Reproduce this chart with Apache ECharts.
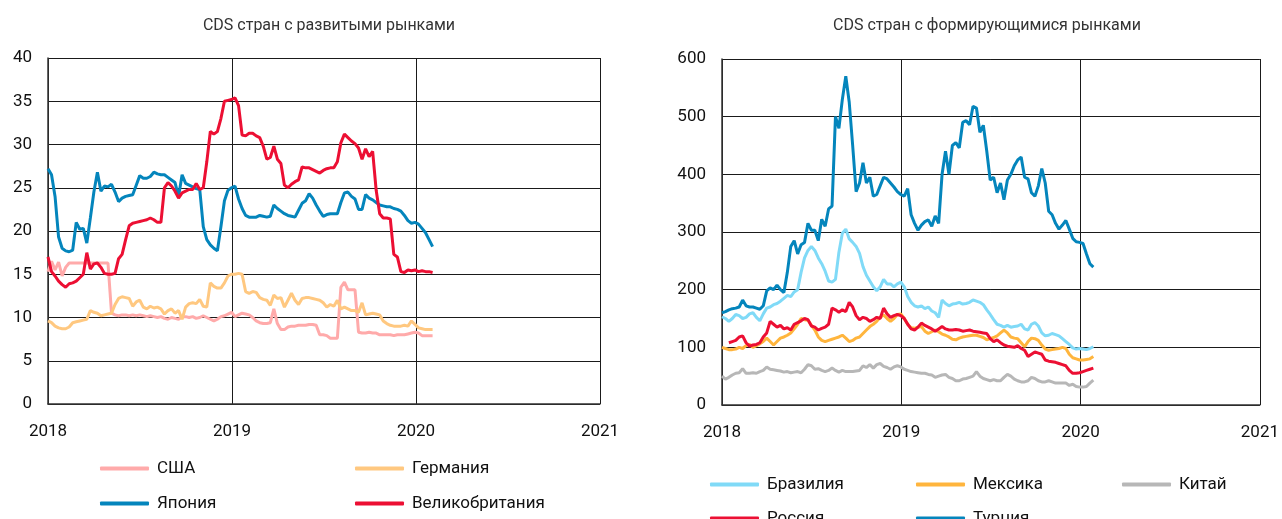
<!DOCTYPE html>
<html>
<head>
<meta charset="utf-8">
<script src="https://cdn.jsdelivr.net/npm/echarts@6/dist/echarts.min.js"></script>
<style>
html,body{margin:0;padding:0;background:#fff;}
#chart{width:1282px;height:519px;}
</style>
</head>
<body>
<div id="chart"></div>
<script>
// Weekly observations starting 2018-01-01
const startDate = '2018-01-01';
const yearTicks = ['2018', '2019', '2020', '2021'];

const titleLeft = 'CDS стран с развитыми рынками';
const titleRight = 'CDS стран с формирующимися рынками';

// Developed markets (bp)
const usa = [15.3,16.5,15.5,16.4,14.8,15.8,16.3,16.3,16.3,16.3,16.3,16.3,16.3,16.3,16.3,16.3,16.3,16.3,10.5,10.3,
  10.2,10.3,10.3,10.2,10.3,10.2,10.3,10.2,10.1,10.2,10.1,10.0,10.1,9.9,9.8,10.0,9.9,9.8,10.1,10.1,
  10.0,10.1,9.9,10.0,10.2,10.0,9.8,9.6,9.8,10.1,10.2,10.4,10.6,10.1,10.3,10.5,10.4,10.3,10.0,9.6,
  9.4,9.3,9.3,9.4,11.0,9.3,8.6,8.6,8.9,9.0,9.0,9.1,9.1,9.1,9.2,9.2,9.1,8.0,8.0,7.9,
  7.6,7.6,7.6,13.5,14.1,13.2,13.2,13.2,8.3,8.2,8.2,8.3,8.2,8.2,8.0,8.0,8.0,8.0,7.9,8.0,
  8.0,8.0,8.1,8.2,8.3,8.2,7.9,7.9,7.9,7.9];
const germany = [9.6,9.4,9.0,8.8,8.7,8.7,8.9,9.4,9.5,9.6,9.7,9.8,10.8,10.6,10.5,10.2,10.3,10.4,10.5,11.5,
  12.2,12.4,12.3,12.2,11.3,11.8,12.0,11.2,11.0,11.3,11.1,11.2,11.0,10.4,10.8,11.0,10.5,10.8,9.8,11.2,
  11.6,11.7,11.6,12.1,11.3,11.2,14.0,13.6,13.4,13.4,14.0,14.8,15.0,15.0,15.1,15.0,13.0,12.8,13.0,12.9,
  12.3,12.1,12.0,11.4,12.6,12.2,12.3,11.2,12.0,12.8,12.0,11.5,12.2,12.3,12.3,12.2,12.1,12.0,11.7,11.2,
  11.5,11.3,12.0,11.0,11.2,11.0,10.8,10.8,10.6,11.7,10.3,10.4,10.5,10.4,10.3,9.6,9.3,9.1,9.0,9.0,
  9.0,9.1,9.0,9.6,9.2,8.8,8.7,8.6,8.6,8.6];
const japan = [27.2,26.5,24.0,19.3,18.0,17.7,17.6,17.8,21.0,20.2,20.3,18.6,21.5,24.5,26.8,24.6,25.2,25.1,25.4,24.5,
  23.4,23.8,24.0,24.1,24.2,25.3,26.4,26.1,26.1,26.3,26.8,26.6,26.5,26.5,26.2,25.9,25.6,24.0,26.5,25.5,
  25.3,25.1,24.9,24.8,20.5,19.0,18.4,18.0,17.7,20.5,23.5,24.7,25.0,25.2,23.7,22.6,21.8,21.6,21.6,21.6,
  21.8,21.7,21.6,21.7,23.0,22.6,22.3,22.0,21.8,21.7,21.6,22.4,23.2,23.5,24.3,23.8,23.0,22.3,21.7,21.9,
  22.0,22.0,22.0,23.3,24.4,24.5,24.0,23.7,22.5,22.5,24.2,23.8,23.6,23.3,23.0,22.9,22.8,22.8,22.6,22.5,
  22.3,21.8,21.2,20.9,21.0,20.8,20.3,19.8,19.0,18.2];
const uk = [17.0,15.3,14.8,14.2,13.8,13.5,13.9,14.0,14.2,14.6,15.0,17.5,15.6,16.2,16.3,15.8,15.1,15.0,15.0,15.1,
  16.8,17.3,19.0,20.6,20.9,21.0,21.1,21.2,21.3,21.5,21.3,21.0,21.0,25.0,25.6,25.2,24.6,23.8,24.4,24.6,
  24.8,24.8,25.5,24.8,25.0,28.0,31.5,31.2,31.5,33.0,35.0,35.1,35.2,35.4,34.5,31.1,31.0,31.3,31.3,31.0,
  30.8,29.8,28.3,28.5,29.8,28.3,27.8,25.3,25.0,25.4,25.7,25.9,27.4,27.3,27.3,27.1,26.9,26.7,27.0,27.2,
  27.3,27.3,28.0,30.2,31.2,30.8,30.4,30.1,29.6,28.3,29.5,28.6,29.2,24.7,22.0,21.5,21.5,21.4,17.3,17.0,
  15.3,15.2,15.5,15.4,15.5,15.3,15.4,15.3,15.3,15.2];

// Emerging markets (bp)
const brazil = [153,150,145,150,157,155,150,152,158,160,152,146,158,168,170,174,176,180,185,190,
  188,196,200,230,255,268,275,268,255,245,232,215,213,218,265,298,305,288,282,275,
  263,240,225,215,205,198,205,218,210,210,205,210,213,205,188,178,172,170,172,167,
  170,163,160,152,182,176,172,175,176,178,175,176,178,182,180,178,174,165,157,148,
  140,138,135,138,135,136,137,140,132,130,140,143,137,125,120,121,124,122,120,115,
  110,105,99,97,98,97,96,98,101];
const mexico = [100,98,96,96,97,100,98,103,105,100,103,106,110,116,110,104,110,116,118,121,
  125,132,140,150,148,147,138,130,118,112,110,112,114,116,118,121,116,110,112,116,
  118,124,130,136,140,145,152,156,150,145,150,157,158,150,140,134,133,135,136,128,
  124,127,130,127,123,121,118,114,113,116,118,119,120,121,121,119,117,113,115,117,
  120,125,130,125,118,116,115,108,101,110,116,115,112,104,97,95,96,97,98,100,
  98,88,82,80,78,78,79,80,84];
const china = [50,45,48,52,55,56,63,55,55,56,55,58,60,66,62,61,60,59,57,58,
  56,57,58,56,62,70,68,62,63,60,58,60,64,60,57,60,58,58,58,59,
  60,68,65,70,64,70,72,67,65,62,66,68,66,62,60,58,57,56,55,55,
  53,52,48,50,52,53,48,46,42,42,45,46,48,50,58,50,46,44,42,44,
  42,42,48,53,50,45,42,40,40,42,48,46,42,40,40,42,40,38,38,38,
  38,34,36,32,31,31,32,38,43];
const russia = [null,null,108,110,112,118,120,108,102,104,105,108,118,125,145,140,135,138,132,134,
  130,140,143,146,150,148,137,135,130,133,135,140,168,165,161,165,162,178,170,155,
  148,152,150,145,148,152,150,168,158,152,155,157,155,150,140,132,130,135,142,138,
  135,132,128,132,136,132,130,130,131,130,128,129,130,128,127,126,125,124,115,110,
  113,108,104,102,101,100,103,98,95,84,88,92,90,88,78,76,75,74,72,70,
  68,60,55,55,56,58,60,62,64];
const turkey = [160,162,165,167,168,170,182,172,170,170,168,166,172,198,203,200,208,200,195,230,
  275,285,262,278,282,315,303,303,285,322,310,340,345,500,480,530,570,525,450,370,
  385,420,385,395,362,365,380,395,392,385,378,370,365,362,375,330,315,303,312,318,
  321,310,328,315,400,440,400,450,455,446,490,493,486,518,515,473,485,440,390,395,
  368,385,356,390,400,415,425,430,395,392,368,362,380,410,385,336,330,315,305,312,
  320,305,289,283,282,280,262,245,239];

const C = {
  usa: '#FFAAAA', germany: '#FFC880', japan: '#0485BC', uk: '#EC0F33',
  brazil: '#80DAF7', mexico: '#FFB53D', china: '#B7B7B7', russia: '#EC0F33', turkey: '#0485BC'
};

function weekX(i) {
  const t0 = new Date(startDate + 'T00:00:00Z').getTime();
  const d = new Date(t0 + i * 7 * 86400000);
  const y = d.getUTCFullYear();
  const a = Date.UTC(y, 0, 1), b = Date.UTC(y + 1, 0, 1);
  return y + (d.getTime() - a) / (b - a);
}
function toData(arr) {
  const out = [];
  arr.forEach((v, i) => { if (v !== null) out.push([weekX(i), v]); });
  return out;
}

const FONT = 'Roboto';
const gridLine = { show: true, lineStyle: { color: '#1a1a1a', width: 1 } };

function xAxis(gi) {
  return {
    type: 'value', gridIndex: gi, min: +yearTicks[0], max: +yearTicks[yearTicks.length - 1], interval: 1,
    axisLine: { show: true, lineStyle: { color: '#333', width: 1.5 } },
    axisTick: { show: false },
    splitLine: gridLine,
    axisLabel: { color: '#111', fontSize: 17, fontFamily: FONT, margin: 19, formatter: v => String(v) }
  };
}
function yAxis(gi, max, interval) {
  return {
    type: 'value', gridIndex: gi, min: 0, max: max, interval: interval,
    axisLine: { show: true, lineStyle: { color: '#333', width: 1.5 } },
    axisTick: { show: false },
    splitLine: gridLine,
    axisLabel: { color: '#111', fontSize: 17, fontFamily: FONT, margin: 16 }
  };
}
function line(name, arr, color, gi, z) {
  return {
    name: name, type: 'line', xAxisIndex: gi, yAxisIndex: gi, data: toData(arr),
    showSymbol: false, symbol: 'none', z: z || 2,
    lineStyle: { color: color, width: 3 }, itemStyle: { color: color }
  };
}
function leg(name, left, top) {
  return {
    data: [name], left: left, top: top, padding: 0,
    icon: 'roundRect', itemWidth: 49, itemHeight: 4, itemGap: 0,
    textStyle: { color: '#111', fontSize: 17, fontFamily: FONT, padding: [0, 0, 0, 3] },
    selectedMode: false
  };
}

const option = {
  animation: false,
  backgroundColor: '#fff',
  title: [
    { text: titleLeft, left: 324, top: 13, textAlign: 'center',
      textStyle: { fontSize: 16, fontWeight: 'normal', color: '#333', fontFamily: FONT } },
    { text: titleRight, left: 982, top: 13, textAlign: 'center',
      textStyle: { fontSize: 16, fontWeight: 'normal', color: '#333', fontFamily: FONT } }
  ],
  grid: [
    { left: 48, right: 682, top: 58, bottom: 115 },
    { left: 722, right: 17, top: 59, bottom: 114 }
  ],
  xAxis: [xAxis(0), xAxis(1)],
  yAxis: [yAxis(0, 40, 5), yAxis(1, 600, 100)],
  legend: [
    leg('США', 100, 460), leg('Германия', 355, 460),
    leg('Япония', 100, 495), leg('Великобритания', 355, 495),
    leg('Бразилия', 710, 476), leg('Мексика', 916, 476), leg('Китай', 1122, 476),
    leg('Россия', 710, 510), leg('Турция', 916, 510)
  ],
  series: [
    line('США', usa, C.usa, 0, 2),
    line('Германия', germany, C.germany, 0, 3),
    line('Япония', japan, C.japan, 0, 4),
    line('Великобритания', uk, C.uk, 0, 5),
    line('Бразилия', brazil, C.brazil, 1, 2),
    line('Мексика', mexico, C.mexico, 1, 3),
    line('Китай', china, C.china, 1, 2),
    line('Россия', russia, C.russia, 1, 4),
    line('Турция', turkey, C.turkey, 1, 5)
  ]
};

const chart = echarts.init(document.getElementById('chart'), null, { renderer: 'canvas' });
chart.setOption(option);
</script>
</body>
</html>
